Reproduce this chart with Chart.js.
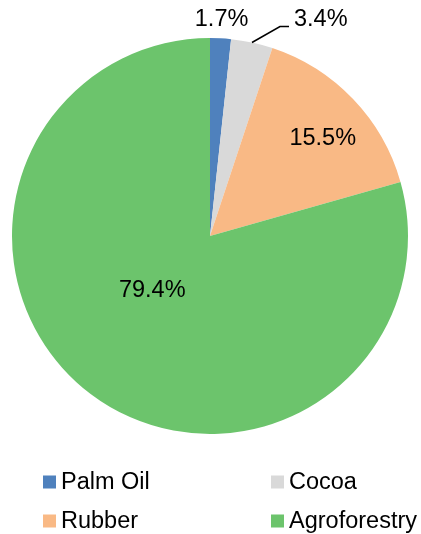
<!DOCTYPE html>
<html>
<head>
<meta charset="utf-8">
<script src="https://cdn.jsdelivr.net/npm/chart.js@4/dist/chart.umd.min.js"></script>
<style>
  html, body { margin: 0; padding: 0; background: #fff; }
  #wrap { width: 421px; height: 534px; position: relative; }
</style>
</head>
<body>
<div id="wrap"><canvas id="c" width="421" height="534"></canvas></div>
<script>
const categories = ['Palm Oil', 'Cocoa', 'Rubber', 'Agroforestry'];
const shares = [1.7, 3.4, 15.5, 79.4];
const colors = ['#4F81BD', '#D9D9D9', '#F9B985', '#6CC46C'];

const FONT = '23.5px "Liberation Sans", Arial, sans-serif';

// Percentage labels: small slices outside (one with a leader line), large ones inside
const labelPlugin = {
  id: 'sliceLabels',
  afterDatasetsDraw(chart) {
    const ctx = chart.ctx;
    const arcs = chart.getDatasetMeta(0).data;
    ctx.save();
    ctx.font = FONT;
    ctx.fillStyle = '#000';
    ctx.textBaseline = 'middle';
    arcs.forEach((arc, i) => {
      const txt = shares[i].toFixed(1) + '%';
      const mid = (arc.startAngle + arc.endAngle) / 2;
      const cx = arc.x, cy = arc.y, r = arc.outerRadius;
      if (i === 0) {
        ctx.textAlign = 'center';
        ctx.fillText(txt, cx + (r + 19) * Math.cos(mid), cy + (r + 19) * Math.sin(mid));
      } else if (i === 1) {
        const sx = cx + r * Math.cos(mid), sy = cy + r * Math.sin(mid);
        const ex = sx + 28, ey = sy - 16;
        ctx.strokeStyle = '#000';
        ctx.lineWidth = 1.5;
        ctx.beginPath();
        ctx.moveTo(sx, sy);
        ctx.lineTo(ex, ey);
        ctx.lineTo(ex + 9, ey);
        ctx.stroke();
        ctx.textAlign = 'left';
        ctx.fillText(txt, ex + 14, ey - 7);
      } else if (i === 2) {
        ctx.textAlign = 'center';
        ctx.fillText(txt, cx + 0.76 * r * Math.cos(mid) + 4, cy + 0.76 * r * Math.sin(mid) + 7);
      } else {
        ctx.textAlign = 'center';
        ctx.fillText(txt, cx + 0.4 * r * Math.cos(mid) - 10, cy + 0.4 * r * Math.sin(mid) - 9);
      }
    });
    ctx.restore();
  }
};

// Two-column legend below the pie
const gridLegend = {
  id: 'gridLegend',
  afterDraw(chart) {
    const ctx = chart.ctx;
    const cols = [43, 271];
    const rows = [482, 521];
    ctx.save();
    ctx.font = FONT;
    ctx.textAlign = 'left';
    ctx.textBaseline = 'middle';
    categories.forEach((name, i) => {
      const x = cols[i % 2], y = rows[Math.floor(i / 2)];
      ctx.fillStyle = colors[i];
      ctx.fillRect(x, y - 6.5, 13, 13);
      ctx.fillStyle = '#000';
      ctx.fillText(name, x + 18, y + 1);
    });
    ctx.restore();
  }
};

new Chart(document.getElementById('c'), {
  type: 'pie',
  data: {
    labels: categories,
    datasets: [{
      data: shares,
      backgroundColor: colors,
      borderWidth: 0
    }]
  },
  options: {
    responsive: false,
    animation: false,
    layout: { padding: { top: 38, bottom: 100, left: 12, right: 13 } },
    plugins: {
      legend: { display: false },
      tooltip: { enabled: false }
    }
  },
  plugins: [labelPlugin, gridLegend]
});
</script>
</body>
</html>
